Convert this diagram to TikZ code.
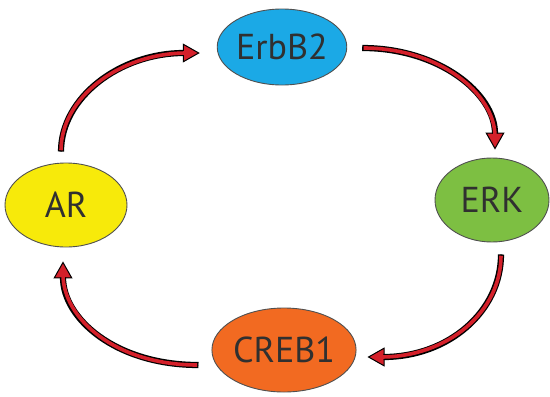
\documentclass[tikz,border=0pt]{standalone}
\usepackage{fontspec}
\setmainfont{PT Sans}
\usetikzlibrary{arrows.meta,shapes.geometric,calc}
\definecolor{cErb}{HTML}{1BA9E6}
\definecolor{cAR}{HTML}{F7EA0A}
\definecolor{cERK}{HTML}{7DBF42}
\definecolor{cCREB}{HTML}{F26A21}
\definecolor{cArrow}{HTML}{D4202A}
\definecolor{cText}{HTML}{303030}
\definecolor{cEdge}{HTML}{505050}
\tikzset{
  blob/.style={ellipse, draw=cEdge, line width=0.9pt, inner sep=0pt, text=cText,
    font=\fontsize{36}{38}\selectfont},
  tipline/.style={draw=black, line width=1pt,
    -{Triangle[length=17pt,width=19pt,fill=cArrow,line width=1pt]}},
  shaftout/.style={draw=black, line width=6.2pt, shorten >=16pt},
  shaftin/.style={draw=cArrow, line width=3.6pt, shorten >=13pt, shorten <=1.3pt},
}
\newcommand{\cyclearrow}[4]{%
  \draw[tipline] #1 .. controls #2 and #3 .. #4;
  \draw[shaftout] #1 .. controls #2 and #3 .. #4;
  \draw[shaftin] #1 .. controls #2 and #3 .. #4;
}
\begin{document}
\begin{tikzpicture}[x=1pt,y=-1pt]
\useasboundingbox (0,0) rectangle (550,397);
\node[blob, fill=cErb, minimum width=116pt, minimum height=76pt] (erb) at (282,47) {ErbB2};
\node[blob, fill=cAR, minimum width=122pt, minimum height=84pt] (ar) at (66,205) {AR};
\node[blob, fill=cERK, minimum width=114pt, minimum height=84pt] (erk) at (492,200) {ERK};
\node[blob, fill=cCREB, minimum width=116pt, minimum height=84pt] (creb) at (284,350) {CREB1};
% AR -> ErbB2
\cyclearrow{($(ar.north)+(-5,-11)$)}{($(ar.north)+(-5,-65)$)}{($(erb.west)+(-97,6)$)}{($(erb.west)+(-17,6)$)}
% ErbB2 -> ERK
\cyclearrow{($(erb.east)+(15,1)$)}{($(erb.east)+(92,1)$)}{($(erk.north)+(3,-64)$)}{($(erk.north)+(3,-8)$)}
% ERK -> CREB1
\cyclearrow{($(erk.south)+(9,12)$)}{($(erk.south)+(9,69)$)}{($(creb.east)+(92,7)$)}{($(creb.east)+(11,7)$)}
% CREB1 -> AR
\cyclearrow{($(creb.west)+(-13,15)$)}{($(creb.west)+(-96,15)$)}{($(ar.south)+(-3,71)$)}{($(ar.south)+(-3,14)$)}
\end{tikzpicture}
\end{document}
